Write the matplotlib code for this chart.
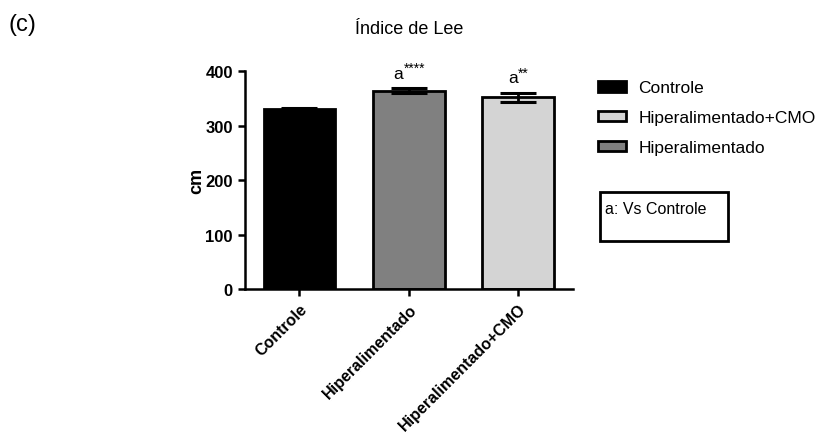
import numpy as np
import matplotlib.pyplot as plt

plt.rcParams['font.family'] = ['Liberation Sans', 'DejaVu Sans']

groups = ['Controle', 'Hiperalimentado', 'Hiperalimentado+CMO']
means = [330, 364, 352]
sems = [3, 4, 8]
colors = ['#000000', '#808080', '#d4d4d4']
stars = ['', '****', '**']
legend_order = [0, 2, 1]

fig = plt.figure(figsize=(8.16, 4.39), dpi=100)
ax = fig.add_axes([0.300, 0.339, 0.402, 0.497])

x = np.arange(len(groups))
bars = ax.bar(x, means, width=0.655, color=colors, edgecolor='black', linewidth=2, zorder=2)
for xi, m, s in zip(x, means, sems):
    ax.errorbar(xi, m, yerr=s, color='black', capsize=13, capthick=2.2, elinewidth=2, zorder=3)

# "a" plus superscript stars, centred on the bar
for xi, m, s, st in zip(x, means, sems, stars):
    if not st:
        continue
    w_a, w_star = 7.0, 3.9 * len(st)
    split = (w_a + w_star) / 2 - w_star
    ax.annotate('a', (xi, m + s + 14), xytext=(split, 0), textcoords='offset points',
                ha='right', va='bottom', fontsize=12.5)
    ax.annotate(st, (xi, m + s + 14), xytext=(split + 0.5, 4), textcoords='offset points',
                ha='left', va='bottom', fontsize=10)

ax.set_xlim(-0.5, 2.5)
ax.set_ylim(0, 400)
ax.set_yticks([0, 100, 200, 300, 400])
ax.set_xticks(x)
ax.set_xticklabels(groups, rotation=45, ha='right', rotation_mode='anchor', fontweight='bold', fontsize=11.5)
for lab in ax.get_yticklabels():
    lab.set_fontweight('bold')
    lab.set_fontsize(12)
ax.set_ylabel('cm', fontweight='bold', fontsize=13, labelpad=0)
ax.spines['top'].set_visible(False)
ax.spines['right'].set_visible(False)
ax.spines['left'].set_linewidth(1.8)
ax.spines['bottom'].set_linewidth(1.8)
ax.tick_params(width=1.8, length=5)
ax.set_title('Índice de Lee', fontsize=13, pad=27)

handles = [bars[i] for i in legend_order]
labels = [groups[i] for i in legend_order]
fig.legend(handles, labels, loc='upper left', bbox_to_anchor=(0.714, 0.85), frameon=False,
           fontsize=12.5, handlelength=1.6, handleheight=0.55, labelspacing=0.85, handletextpad=0.7)

fig.text(0.010, 0.943, '(c)', fontsize=17, va='center')

box = plt.Rectangle((600 / 816, 1 - 242 / 439), 128 / 816, 49 / 439, transform=fig.transFigure,
                    fill=False, edgecolor='black', linewidth=2)
fig.add_artist(box)
fig.text(605 / 816, 1 - 209 / 439, 'a: Vs Controle', fontsize=11.5, va='center')

fig.savefig('out.png', dpi=100)
